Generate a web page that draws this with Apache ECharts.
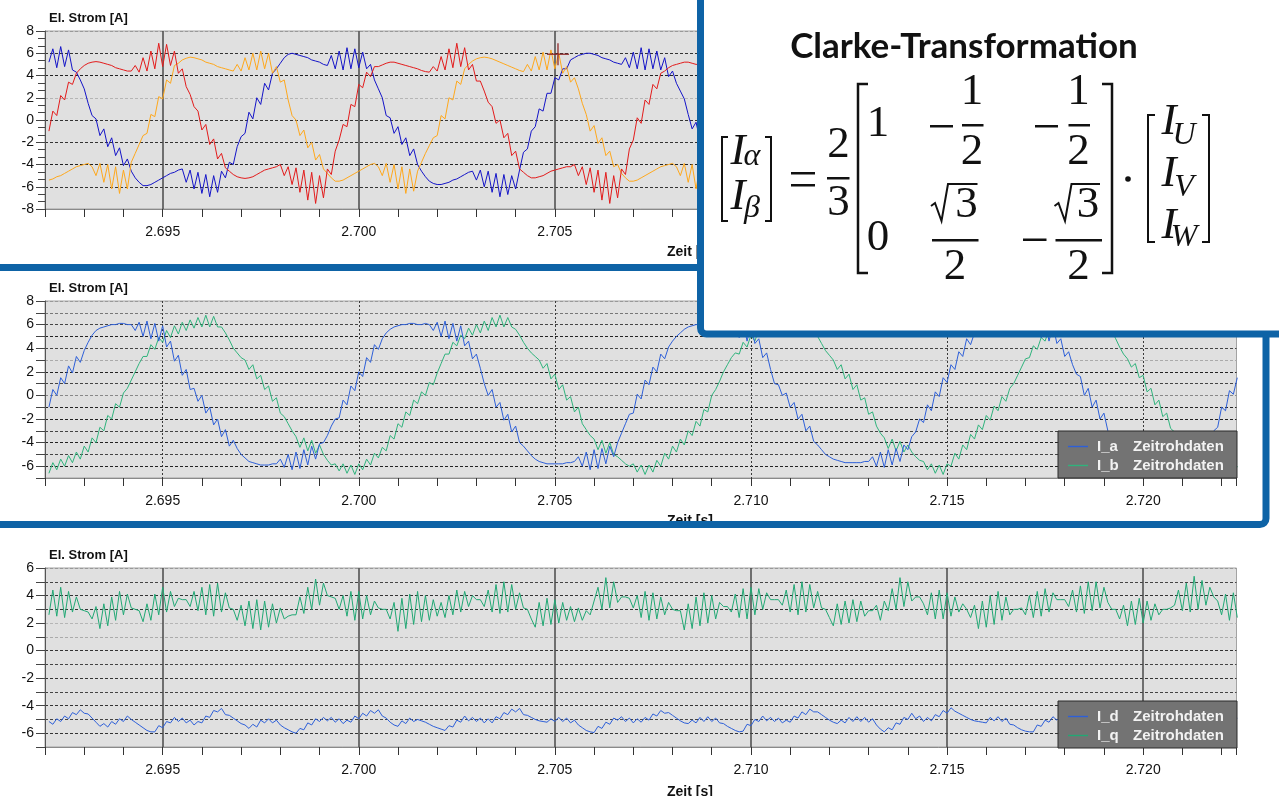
<!DOCTYPE html>
<html><head><meta charset="utf-8">
<script src="https://cdn.jsdelivr.net/npm/echarts@6/dist/echarts.min.js"></script>
<style>html,body{margin:0;padding:0;background:#fff;}#c{width:1279px;height:796px;}</style>
</head><body><div id="c"></div>
<script>
// time axis in milliseconds: samples start at 2692.1 ms, every 0.1 ms
const T0_MS = 2692.1, DT_MS = 0.1;
const xTickLabels = ['2.695','2.700','2.705','2.710','2.715','2.720'];
const yAxisTitle = 'El. Strom [A]';
const xAxisTitle = 'Zeit [s]';
const legendSuffix = 'Zeitrohdaten';
const formulaTitle = 'Clarke-Transformation';

// top panel: phase currents
const I_U = [
5.2,6.4,4.7,6.6,4.8,6.3,4.5,4.3,3.6,2.8,
1.5,0.4,0.1,-1.4,-0.8,-2.4,-1.6,-3.2,-2.5,-4.1,
-3.5,-4.6,-5.2,-5.6,-5.9,-5.9,-5.8,-5.6,-5.4,-5.2,
-5.0,-4.8,-4.7,-4.5,-4.4,-5.6,-4.5,-6.2,-4.7,-6.6,
-4.9,-6.9,-5.0,-6.5,-4.6,-5.2,-3.8,-4.0,-2.4,-1.5,
-1.2,0.7,0.1,2.0,1.4,3.3,2.7,4.2,4.6,5.1,
5.6,5.9,6.0,5.9,5.8,5.7,5.6,5.4,5.3,5.2,
5.0,4.9,5.8,4.6,6.2,4.5,6.5,4.6,6.4,4.7,
6.1,4.6,5.0,3.6,2.8,2.0,0.4,0.2,-1.2,-0.6,
-2.2,-1.6,-3.2,-2.6,-4.0,-4.6,-5.1,-5.5,-5.7,-5.8,
-5.8,-5.7,-5.6,-5.4,-5.3,-5.1,-4.9,-4.7,-4.6,-5.4,
-4.5,-6.0,-4.6,-6.5,-4.8,-6.9,-4.9,-6.7,-5.0,-6.2,
-4.5,-2.9,-2.6,-1.0,-0.6,1.0,0.8,2.4,2.4,3.8,
3.6,4.6,4.6,5.4,5.6,5.8,5.9,6.0,6.0,5.9,
5.8,5.6,5.5,5.4,5.2,5.1,5.0,5.6,4.7,6.1,
4.6,6.5,4.5,6.4,4.6,6.2,4.5,5.6,3.9,4.4,
3.3,2.6,1.9,0.5,-0.8,-0.2,-1.8];
const I_V = [
-1.0,0.8,0.4,2.2,1.8,3.4,3.2,4.2,4.6,4.9,
5.1,5.2,5.25,5.2,5.1,5.0,4.9,4.7,4.6,4.5,
4.4,4.4,4.9,4.3,5.6,4.4,6.2,4.6,6.9,4.8,
6.8,4.9,6.2,4.2,4.6,3.0,2.3,1.2,0.8,-0.9,
-0.4,-2.2,-1.7,-3.5,-3.0,-4.3,-4.6,-4.9,-5.1,-5.2,
-5.25,-5.2,-5.1,-4.9,-4.7,-4.5,-4.4,-4.3,-4.2,-4.0,
-5.0,-4.2,-5.8,-4.3,-6.5,-4.5,-7.2,-4.7,-7.5,-5.0,
-7.0,-4.4,-4.9,-2.8,-1.8,-0.4,-0.6,1.4,1.2,3.2,
2.9,4.3,3.9,4.8,4.8,4.95,5.1,5.2,5.2,5.1,
5.0,4.9,4.8,4.7,4.6,4.45,4.35,4.3,4.8,4.4,
5.7,4.5,6.4,4.7,6.9,4.8,6.5,4.5,5.0,3.5,
3.5,2.6,1.6,1.2,-0.3,0.0,-1.6,-1.2,-3.2,-2.8,
-4.4,-4.7,-5.0,-5.2,-5.2,-5.1,-5.0,-4.8,-4.6,-4.5,
-4.4,-4.3,-4.2,-4.2,-4.0,-5.0,-4.2,-5.8,-4.3,-6.5,
-4.5,-7.2,-4.7,-7.5,-5.0,-7.0,-4.4,-4.9,-2.6,-1.8,
0.2,-0.3,1.8,1.4,3.2,2.8,4.2,4.4,4.7,4.9,
5.0,5.1,5.2,5.2,5.1,5.0,5.0];
const I_W = [
-5.4,-5.3,-5.1,-5.0,-4.8,-4.6,-4.4,-4.2,-4.1,-4.0,
-3.9,-4.2,-5.0,-3.9,-5.6,-4.0,-6.2,-4.2,-6.6,-4.5,
-6.2,-3.8,-3.0,-2.2,-1.4,-1.2,0.5,0.3,2.1,1.9,
3.6,3.3,4.9,5.1,5.4,5.55,5.65,5.6,5.5,5.4,
5.2,5.1,5.0,4.8,4.7,4.6,4.5,4.4,5.0,4.4,
5.6,4.5,6.0,4.5,6.2,4.6,6.0,4.2,4.8,3.4,
3.6,1.8,0.4,0.0,-1.4,-0.9,-2.5,-2.0,-3.6,-3.1,
-4.4,-4.8,-5.2,-5.5,-5.5,-5.4,-5.2,-5.0,-4.8,-4.6,
-4.4,-4.2,-4.0,-3.9,-4.2,-5.0,-3.9,-5.6,-4.0,-6.2,
-4.2,-6.6,-4.4,-6.4,-4.6,-3.8,-3.0,-2.3,-1.6,-1.4,
0.4,0.1,2.0,1.8,3.5,3.2,4.6,5.0,5.3,5.5,
5.6,5.65,5.6,5.5,5.35,5.2,5.05,4.9,4.75,4.6,
4.45,4.35,5.0,4.4,5.7,4.5,6.1,4.5,6.3,4.6,
6.0,4.2,4.8,3.4,3.8,2.8,1.5,0.5,-1.0,-0.5,
-2.1,-1.6,-3.2,-2.8,-4.2,-4.0,-4.8,-5.2,-5.5,-5.5,
-5.4,-5.2,-5.0,-4.8,-4.6,-4.4,-4.2,-4.1,-4.0,-3.9,
-4.2,-5.0,-3.9,-5.6,-4.0,-6.2,-4.2];
const cursorMark = [[2705.08, 5.9]];

// middle panel: alpha / beta currents
const I_a = [
-1.0,0.5,0.0,1.5,1.0,2.5,1.9,3.3,2.8,3.8,
4.5,5.1,5.5,5.7,5.8,5.9,6.0,6.0,6.1,6.1,
6.0,6.0,5.5,6.2,5.0,6.3,4.8,6.1,4.6,5.9,
4.1,4.6,2.9,3.4,1.7,2.2,0.5,0.6,-0.5,0.0,
-1.5,-1.0,-2.5,-2.0,-3.5,-2.9,-4.3,-3.8,-4.5,-5.0,
-5.3,-5.6,-5.7,-5.8,-5.9,-5.9,-5.9,-5.8,-5.8,-5.4,
-6.1,-5.0,-6.3,-4.8,-6.2,-4.6,-5.9,-4.3,-5.4,-4.1,
-4.0,-3.4,-2.6,-2.0,-1.9,-0.4,-0.8,0.8,0.4,2.0,
1.6,3.2,2.8,4.3,3.9,4.8,5.3,5.6,5.8,5.9,
6.0,6.0,6.1,6.1,6.0,6.0,6.1,6.0,5.5,6.2,
5.0,6.3,4.8,6.1,4.6,5.9,4.2,4.6,3.1,3.5,
2.3,1.0,0.0,0.5,-1.0,-0.6,-2.1,-1.6,-3.1,-2.6,
-4.0,-4.3,-4.7,-5.1,-5.4,-5.6,-5.7,-5.8,-5.8,-5.8,
-5.8,-5.8,-5.7,-5.7,-5.6,-5.2,-6.0,-4.8,-6.3,-4.6,
-6.2,-4.5,-5.8,-4.3,-5.2,-4.0,-3.2,-2.4,-1.6,-1.5,
0.1,-0.3,1.3,0.9,2.4,2.0,3.5,3.1,4.1,4.6,
5.0,5.3,5.6,5.8,5.9,6.0,6.0,6.1,6.1,6.1,
6.0,6.0,6.1,6.0,5.5,6.2,4.9,6.3,4.6,6.0,
4.4,4.8,3.2,3.6,2.2,1.0,0.9,0.0,0.2,-1.0,
-0.6,-2.0,-1.6,-3.0,-2.6,-3.9,-4.2,-4.6,-5.0,-5.2,
-5.4,-5.5,-5.6,-5.7,-5.7,-5.7,-5.7,-5.7,-5.6,-5.6,
-5.2,-6.0,-4.8,-6.1,-4.6,-5.9,-4.5,-5.6,-4.2,-4.6,
-3.5,-3.1,-2.0,-2.3,-0.8,-1.3,0.3,-0.1,1.5,1.1,
2.6,2.2,3.7,3.3,4.8,4.3,5.3,5.6,5.8,5.9,
6.0,6.0,6.1,6.1,6.0,6.0,6.1,6.0,6.0,6.1,
6.0,5.5,6.2,4.9,6.3,4.6,6.0,4.4,4.8,3.3,
3.7,2.6,1.8,1.6,0.0,0.6,-1.0,-0.4,-2.0,-1.5,
-3.0,-3.6,-4.2,-4.7,-5.1,-5.4,-5.6,-5.7,-5.8,-5.8,
-5.8,-5.8,-5.7,-5.7,-5.6,-5.2,-6.0,-4.8,-6.2,-4.6,
-6.0,-4.5,-5.6,-4.2,-5.0,-3.8,-3.4,-3.0,-2.7,-1.0,
-1.3,0.4,0.1,1.5];
const I_b = [
-6.6,-5.7,-6.3,-5.4,-6.0,-5.1,-5.7,-4.8,-5.4,-4.3,
-4.8,-3.6,-4.0,-2.7,-3.0,-1.7,-2.0,-0.7,-1.0,0.2,
0.6,1.3,2.0,2.7,3.3,3.3,4.3,3.9,4.9,4.5,
5.5,4.9,5.9,5.2,6.2,5.5,6.4,5.7,6.6,5.8,
6.8,5.8,6.7,5.8,5.8,5.3,4.7,4.0,3.6,3.2,
3.0,2.2,2.6,1.4,1.7,0.5,0.8,-0.5,-0.2,-1.5,
-1.8,-2.4,-3.0,-3.5,-4.4,-3.6,-4.7,-3.8,-4.9,-4.2,
-5.0,-5.5,-5.9,-5.8,-6.4,-5.8,-6.6,-5.9,-6.7,-5.8,
-6.3,-5.4,-5.9,-4.9,-5.3,-4.4,-4.7,-3.4,-3.7,-2.4,
-2.7,-1.4,-1.7,-0.4,-0.7,0.3,0.0,1.1,0.9,1.9,
2.7,3.5,3.5,4.5,4.2,5.1,4.8,5.7,5.1,6.0,
5.3,6.3,5.5,6.6,5.8,6.8,5.8,6.6,5.8,5.6,
5.1,4.5,4.0,3.6,3.3,3.0,2.3,2.7,1.4,1.8,
0.5,0.9,-0.4,-0.1,-1.4,-1.0,-2.4,-2.9,-3.4,-3.7,
-4.6,-3.8,-4.9,-4.0,-5.0,-5.2,-5.5,-5.8,-6.0,-5.8,
-6.5,-5.9,-6.7,-5.9,-6.5,-5.5,-6.0,-4.9,-5.4,-4.3,
-4.8,-3.7,-4.2,-3.0,-3.4,-2.2,-2.6,-1.2,-1.4,0.0,
0.5,1.2,2.0,2.6,3.2,3.6,3.5,4.5,4.1,5.1,
4.6,5.6,5.0,6.0,5.3,6.3,5.5,6.5,5.7,6.7,
5.8,6.8,5.8,6.6,5.8,5.6,5.0,4.4,3.8,3.4,
3.0,2.2,2.6,1.4,1.8,0.5,0.9,-0.4,-0.2,-1.6,
-1.4,-2.6,-3.2,-3.6,-4.5,-3.7,-4.7,-3.9,-4.8,-4.2,
-4.8,-5.2,-5.5,-5.6,-6.3,-5.8,-6.6,-5.9,-6.7,-5.8,
-6.0,-4.9,-5.4,-4.2,-4.6,-3.3,-3.7,-2.5,-2.9,-1.7,
-2.1,-0.9,-1.3,-0.1,-0.5,0.6,1.0,1.7,2.4,3.1,
3.2,4.2,3.9,4.9,4.6,5.6,5.2,6.0,5.4,6.2,
5.5,6.4,5.7,6.5,5.8,6.7,5.8,6.8,5.9,6.6,
5.8,5.5,4.8,4.1,3.5,3.1,2.4,2.7,1.5,1.7,
0.3,0.6,-0.8,-0.4,-1.8,-1.5,-2.8,-3.1,-3.5,-3.8,
-4.6,-3.8,-4.9,-4.0,-5.0,-4.3,-5.1,-5.5,-5.9,-5.8,
-6.5,-5.9,-6.7,-6.0];

// bottom panel: d / q currents
const I_d = [
-5.15,-5.35,-4.95,-5.15,-4.75,-4.95,-4.5,-4.65,-4.3,-4.55,
-4.6,-4.9,-5.2,-5.5,-5.3,-5.55,-5.15,-5.35,-4.95,-5.15,
-4.75,-5.0,-5.2,-5.4,-5.6,-5.8,-5.9,-5.9,-5.45,-5.6,
-5.15,-5.25,-4.85,-5.15,-4.9,-5.25,-5.05,-5.4,-5.15,-5.25,
-4.75,-4.85,-4.35,-4.45,-4.2,-4.65,-4.7,-4.9,-5.1,-5.3,
-5.4,-5.65,-5.35,-5.55,-5.05,-5.25,-4.95,-5.25,-5.05,-5.4,
-5.6,-5.75,-5.9,-6.0,-5.65,-5.75,-5.25,-5.4,-4.95,-5.15,
-4.85,-5.1,-4.85,-5.2,-4.95,-5.3,-5.05,-5.2,-4.75,-4.95,
-4.55,-4.75,-4.35,-4.55,-4.3,-4.75,-4.9,-5.2,-5.4,-5.5,
-5.1,-5.3,-4.9,-5.15,-5.0,-5.1,-5.2,-5.35,-5.5,-5.6,
-5.7,-5.8,-5.45,-5.55,-5.05,-5.2,-4.75,-5.1,-4.85,-5.15,
-4.9,-5.25,-4.95,-5.25,-4.8,-4.95,-4.5,-4.65,-4.25,-4.45,
-4.2,-4.65,-4.7,-4.85,-5.0,-5.1,-5.15,-5.2,-4.95,-5.15,
-4.85,-5.15,-4.9,-5.25,-5.05,-5.4,-5.6,-5.8,-5.9,-5.95,
-5.5,-5.65,-5.2,-5.35,-4.9,-5.05,-4.8,-5.15,-4.9,-5.25,
-4.95,-5.2,-4.85,-5.05,-4.6,-4.75,-4.35,-4.55,-4.5,-4.7,
-4.9,-5.1,-5.25,-5.3,-5.05,-5.25,-4.85,-5.15,-4.8,-5.15,
-4.9,-5.25,-5.3,-5.5,-5.65,-5.8,-5.9,-5.85,-5.35,-5.45,
-5.0,-5.15,-4.75,-5.1,-4.85,-5.15,-4.9,-5.25,-5.05,-5.2,
-4.75,-4.9,-4.45,-4.65,-4.25,-4.45,-4.45,-4.65,-4.85,-5.05,
-5.2,-5.3,-5.05,-5.25,-4.85,-5.15,-4.8,-5.15,-4.85,-5.2,
-4.95,-5.4,-5.7,-5.9,-5.6,-5.75,-5.25,-5.35,-4.85,-5.0,
-4.55,-4.95,-4.75,-5.15,-4.85,-5.1,-4.65,-4.8,-4.35,-4.55,
-4.15,-4.4,-4.55,-4.7,-4.85,-5.0,-5.1,-5.15,-5.2,-5.25,
-4.85,-5.1,-4.8,-5.15,-4.9,-5.35,-5.4,-5.6,-5.75,-5.85,
-5.9,-5.9,-5.4,-5.5,-5.05,-5.2,-4.8,-5.05,-4.75,-5.1,
-4.85,-5.15,-4.75,-4.95,-4.5,-4.7,-4.3,-4.5,-4.15,-4.45,
-4.65,-4.85,-5.0,-5.1,-5.15,-5.2,-4.95,-5.15,-4.85,-5.1,
-4.85,-5.2,-5.0,-5.45,-5.45,-5.6,-5.75,-5.85,-5.9,-5.9,
-5.4,-5.5,-5.05,-5.2,-4.8,-5.05,-4.8,-5.15,-4.85,-5.2,
-4.85,-5.1,-4.7,-4.9];
const I_q = [
2.6,4.4,2.5,4.6,2.4,4.3,2.8,3.9,3.0,2.9,
2.8,2.3,3.2,1.6,3.4,1.8,3.9,2.2,4.3,2.6,
4.1,3.1,3.0,2.9,2.1,3.4,2.2,4.1,2.6,4.6,
2.8,4.3,3.2,3.8,3.7,3.7,3.2,4.3,2.9,4.6,
2.6,4.8,2.5,4.9,2.8,4.2,3.1,3.0,2.2,3.3,
1.8,3.6,1.6,3.7,1.5,3.6,1.7,3.4,2.0,3.1,
2.3,2.5,2.6,2.6,3.9,2.7,4.6,3.0,5.2,3.3,
4.9,4.0,3.9,3.8,3.0,4.0,2.5,4.3,2.2,4.3,
2.3,4.0,2.6,3.6,3.1,3.0,3.0,2.3,3.5,1.4,
3.8,1.6,4.1,1.9,4.3,2.1,4.0,2.2,3.7,2.5,
3.5,2.4,4.0,2.6,4.4,2.8,4.3,3.2,4.0,3.7,
3.7,3.2,4.4,2.8,4.8,2.7,5.0,2.8,4.8,3.0,
4.2,3.1,3.0,2.3,1.7,3.5,1.8,3.8,1.9,3.7,
2.0,3.5,2.2,3.2,2.1,3.1,2.2,2.9,2.6,3.6,
4.6,3.0,5.3,3.1,5.0,3.5,3.9,3.9,3.8,3.1,
4.0,2.4,4.3,2.2,4.2,2.3,3.9,2.6,3.5,3.0,
2.9,2.9,1.5,3.4,1.6,3.9,1.8,4.2,2.0,4.0,
2.3,3.5,3.2,3.2,2.8,4.1,2.4,4.5,2.3,4.6,
2.6,4.5,3.0,4.2,3.7,3.7,3.7,3.3,4.4,2.8,
4.8,2.6,5.0,2.8,4.8,3.1,4.3,3.1,3.0,2.4,
1.8,3.4,1.9,3.6,2.0,3.7,2.1,3.6,2.5,2.9,
2.9,3.3,2.2,3.6,2.9,4.5,3.0,5.3,3.2,5.0,
3.6,3.9,3.9,3.4,2.6,4.2,2.3,4.4,2.3,4.2,
2.5,3.9,2.8,3.4,3.0,2.4,3.3,1.6,3.6,1.7,
4.0,1.9,4.3,2.2,3.9,2.6,3.0,3.0,3.1,2.6,
4.0,2.4,4.3,2.5,4.5,2.8,4.2,3.7,3.7,3.7,
3.2,4.4,2.8,4.7,2.7,5.0,2.9,5.0,3.1,4.6,
3.5,3.0,3.0,2.3,3.3,1.8,3.6,1.9,3.8,2.0,
3.6,2.2,3.4,2.6,3.0,3.0,3.1,3.3,4.4,2.9,
4.9,2.8,5.4,3.0,5.1,3.3,4.6,3.9,3.6,2.6,
4.1,2.2,4.2,2.4];

const pts = arr => arr.map((v, i) => [T0_MS + DT_MS * i, v]);

const FONT = "'Liberation Sans', Arial, sans-serif";
const SERIF = "'Liberation Serif', 'DejaVu Serif', serif";
const BLUE = '#0e63a6';
const TR = 'rgba(0,0,0,0)';
const GRID_L = 45, GRID_R = 42.5;
const grids = [
  {top: 31, height: 178},
  {top: 301, height: 177},
  {top: 568, height: 179}
];

function xAxisFor(k) {
  return {
    gridIndex: k, type: 'value', min: 2692, max: 2722.38, interval: 1,
    axisLine: {show: true, onZero: false, lineStyle: {color: '#8a8a8a'}},
    axisTick: {show: true, length: 8, lineStyle: {color: '#333'}},
    axisLabel: {
      margin: 16, fontSize: 14, color: '#111', fontFamily: FONT,
      showMinLabel: true, showMaxLabel: true,
      formatter: v => { const s = (v / 1000).toFixed(3); return xTickLabels.includes(s) && Math.abs(v - Math.round(v)) < 1e-6 ? s : ''; }
    },
    splitLine: {show: true, showMinLine: true, showMaxLine: true,
      lineStyle: {color: [TR, TR, TR, k === 1 ? '#3a3a3a' : '#4a4a4a', TR], width: k === 1 ? 1 : 1.5, type: k === 1 ? [2, 2] : 'solid'}}
  };
}
function yAxisFor(k, min, max, interval, colors, evenOnly) {
  return {
    gridIndex: k, type: 'value', min, max, interval,
    name: yAxisTitle, nameLocation: 'end', nameGap: 6,
    nameTextStyle: {align: 'left', verticalAlign: 'bottom', fontWeight: 'bold', fontSize: 13, color: '#111', fontFamily: FONT, padding: [0, 0, 0, 4]},
    axisLine: {show: true, onZero: false, lineStyle: {color: '#555'}},
    axisTick: {show: true, length: 9, lineStyle: {color: '#444'}},
    minorTick: {show: k === 0, splitNumber: 3, length: 7, lineStyle: {color: '#444'}},
    axisLabel: {margin: 11, fontSize: 14, color: '#111', fontFamily: FONT,
      formatter: v => (evenOnly && Math.round(v) % 2 !== 0) ? '' : String(Math.round(v))},
    splitLine: {show: true, lineStyle: {color: colors, width: 1, type: [3, 2]}}
  };
}

const lineSeries = (name, data, color, k, width) => ({
  name, type: 'line', data: pts(data), xAxisIndex: k, yAxisIndex: k,
  showSymbol: false, symbol: 'none', sampling: false, silent: true,
  lineStyle: {color, width: width || 1}, itemStyle: {color}, animation: false, clip: true
});

const legendFor = (names, top) => ({
  data: names.map(n => ({name: n, icon: 'path://M0,0h20v1.4h-20z'})), left: 1058, top, orient: 'vertical', selectedMode: false,
  backgroundColor: '#737373', borderColor: '#2a2a2a', borderWidth: 1, borderRadius: 0,
  padding: [8, 10, 5, 10], itemGap: 4, itemWidth: 20, itemHeight: 1.4,
  formatter: n => `{a|${n}}{b|${legendSuffix}}`,
  textStyle: {color: '#f2f2f2', fontSize: 15, fontWeight: 'bold', fontFamily: FONT, lineHeight: 15,
    rich: {a: {width: 36, padding: [0, 0, 0, 4], color: '#f2f2f2', fontSize: 15, fontWeight: 'bold', fontFamily: FONT, lineHeight: 15},
           b: {width: 94, color: '#f2f2f2', fontSize: 15, fontWeight: 'bold', fontFamily: FONT, lineHeight: 15}}}
});

// ---------- formula & frames (decoration) ----------
const G = [];
const txt = (text, x, y, font, z) => ({type: 'text', z: z || 102, x, y, silent: true,
  style: {text, font, fill: '#111', textAlign: 'center', textVerticalAlign: 'middle', align: 'center', verticalAlign: 'middle'}});
const poly = (points, w) => ({type: 'polyline', z: 102, silent: true, shape: {points}, style: {stroke: '#111', lineWidth: w || 2, fill: null}});
const bar = (x, y, w, h) => ({type: 'rect', z: 102, silent: true, shape: {x, y, width: w, height: h || 2.5}, style: {fill: '#111'}});

// x-axis titles
[[667, 252.5], [667, 521], [667, 792]].forEach(([x, y]) => G.push({type: 'text', z: 50, x, y, silent: true,
  style: {text: xAxisTitle, font: `bold 14px ${FONT}`, fill: '#111', textAlign: 'left', textVerticalAlign: 'middle', align: 'left', verticalAlign: 'middle'}}));
// frames
G.push({type: 'rect', z: 100, silent: true, shape: {x: -10, y: 267.5, width: 1276, height: 257, r: 6}, style: {fill: 'none', stroke: BLUE, lineWidth: 7}});
G.push({type: 'rect', z: 101, silent: true, shape: {x: 700.5, y: -20, width: 620, height: 354, r: 6}, style: {fill: '#fff', stroke: BLUE, lineWidth: 7}});
// title
G.push(txt(formulaTitle, 964, 47, 'bold 35px Lato, "Open Sans", sans-serif'));
const IT = `italic 45px ${SERIF}`, ITS = `italic 32px ${SERIF}`, RM = `45px ${SERIF}`;
// left vector
G.push(poly([[728, 137], [722, 137], [722, 221], [728, 221]]));
G.push(poly([[765, 137], [771, 137], [771, 221], [765, 221]]));
G.push(txt('I', 738, 152.5, IT), txt('α', 752, 157, ITS), txt('I', 738, 197.5, IT), txt('β', 752, 209, ITS));
// equals
G.push(bar(791, 172, 24), bar(791, 184, 24));
// 2/3
G.push(txt('2', 838.5, 145, RM), bar(827, 177, 22.5), txt('3', 838.5, 203, RM));
// big matrix brackets
G.push(poly([[868, 84], [858, 84], [858, 273], [868, 273]], 2.5));
G.push(poly([[1102, 84], [1112, 84], [1112, 273], [1102, 273]], 2.5));
// row 1
G.push(txt('1', 878, 124, RM), bar(930, 125, 23));
G.push(txt('1', 972, 92, RM), bar(962, 124, 21.5), txt('2', 972, 152, RM));
G.push(bar(1035, 125, 23));
G.push(txt('1', 1078.5, 92, RM), bar(1068.5, 124, 21.5), txt('2', 1078.5, 152, RM));
// row 2
G.push(txt('0', 878, 238, RM));
G.push(poly([[931, 206], [935, 203], [941.5, 221], [948, 184], [977.5, 184]], 2));
G.push(txt('3', 966.5, 205, RM), bar(932, 239, 46.5), txt('2', 955, 267, RM));
G.push(bar(1023, 238.5, 23.5));
G.push(poly([[1054.5, 206], [1058.5, 203], [1065, 221], [1071.5, 184], [1100, 184]], 2));
G.push(txt('3', 1088, 205, RM), bar(1055.5, 239, 46.5), txt('2', 1078.5, 267, RM));
// dot
G.push({type: 'circle', z: 102, silent: true, shape: {cx: 1128, cy: 179, r: 2.8}, style: {fill: '#111'}});
// right vector
G.push(poly([[1155, 115], [1148, 115], [1148, 242], [1155, 242]]));
G.push(poly([[1202, 115], [1209, 115], [1209, 242], [1202, 242]]));
G.push(txt('I', 1169, 122.5, IT), txt('U', 1184, 136, ITS));
G.push(txt('I', 1169, 174, IT), txt('V', 1184, 187.5, ITS));
G.push(txt('I', 1169, 226, IT), txt('W', 1184, 237.5, ITS));

const chart = echarts.init(document.getElementById('c'), null, {renderer: 'canvas'});
chart.setOption({
  animation: false,
  backgroundColor: '#ffffff',
  textStyle: {fontFamily: FONT},
  grid: grids.map(g => ({left: GRID_L, right: GRID_R, top: g.top, height: g.height, show: true,
    backgroundColor: '#e0e0e0', borderColor: '#a3a3a3', borderWidth: 1, containLabel: false, outerBoundsMode: 'none'})),
  xAxis: [xAxisFor(0), xAxisFor(1), xAxisFor(2)],
  yAxis: [
    yAxisFor(0, -8, 8, 2, ['#999', '#333', '#222', '#333', '#333', '#b5b5b5', '#222', '#333', '#999'], false),
    yAxisFor(1, -7, 8, 1, ['#999', '#222', '#444', '#222', '#444', '#222', '#222', '#888', '#444', '#222', '#aaa', '#444', '#222', '#444', '#777', '#999'], true),
    yAxisFor(2, -7, 6, 1, ['#999', '#333', '#444', '#333', '#444', '#333', '#444', '#333', '#aaa', '#b5b5b5', '#333', '#333', '#444', '#999'], true)
  ],
  legend: [legendFor(['I_a', 'I_b'], 431), legendFor(['I_d', 'I_q'], 701)],
  series: [
    lineSeries('I_U', I_U, '#1414c8', 0),
    lineSeries('I_W', I_W, '#ffa81c', 0),
    lineSeries('I_V', I_V, '#e31b1b', 0),
    {name: 'Cursor', type: 'scatter', xAxisIndex: 0, yAxisIndex: 0, data: cursorMark, silent: true,
     symbol: 'path://M10.25,0h1.5v22h-1.5zM0,10.25h22v1.5h-22z', symbolSize: 22, itemStyle: {color: '#8b1c1c'}, z: 5},
    lineSeries('I_b', I_b, '#2fb37c', 1),
    lineSeries('I_a', I_a, '#2d5fd8', 1),
    lineSeries('I_q', I_q, '#21a874', 2),
    lineSeries('I_d', I_d, '#2d5fd8', 2)
  ],
  graphic: {elements: G}
});
</script>
</body></html>
